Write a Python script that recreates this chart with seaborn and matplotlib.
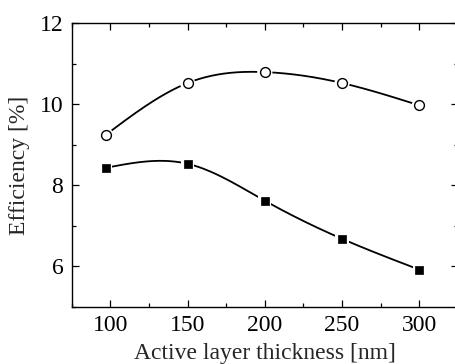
import numpy as np
import pandas as pd
import seaborn as sns
import matplotlib
matplotlib.use("Agg")
import matplotlib.pyplot as plt
from matplotlib.ticker import MultipleLocator

# Data
thickness = [97, 150, 200, 250, 300]
eff_circle = [9.24, 10.52, 10.79, 10.52, 9.97]
eff_square = [8.43, 8.53, 7.62, 6.68, 5.92]


def natural_spline(x, y, n=200):
    # natural cubic spline, only used to draw the smooth connecting line
    x = np.asarray(x, float)
    y = np.asarray(y, float)
    k = len(x)
    h = np.diff(x)
    A = np.zeros((k, k))
    b = np.zeros(k)
    A[0, 0] = A[-1, -1] = 1
    for i in range(1, k - 1):
        A[i, i - 1] = h[i - 1]
        A[i, i] = 2 * (h[i - 1] + h[i])
        A[i, i + 1] = h[i]
        b[i] = 6 * ((y[i + 1] - y[i]) / h[i] - (y[i] - y[i - 1]) / h[i - 1])
    M = np.linalg.solve(A, b)
    xs = np.linspace(x[0], x[-1], n)
    idx = np.clip(np.searchsorted(x, xs) - 1, 0, k - 2)
    x0, x1 = x[idx], x[idx + 1]
    hh = x1 - x0
    ys = (M[idx] * (x1 - xs) ** 3 / (6 * hh) + M[idx + 1] * (xs - x0) ** 3 / (6 * hh)
          + (y[idx] / hh - M[idx] * hh / 6) * (x1 - xs)
          + (y[idx + 1] / hh - M[idx + 1] * hh / 6) * (xs - x0))
    return xs, ys


sns.set_style("ticks")
plt.rcParams['font.family'] = ['Liberation Serif', 'DejaVu Serif']
plt.rcParams['font.size'] = 17

fig = plt.figure(figsize=(4.56, 3.64), dpi=100)
ax = fig.add_axes([71.6 / 456, 57 / 364, (458 - 71.6) / 456, (307 - 23) / 364])

for yvals in (eff_circle, eff_square):
    xs, ys = natural_spline(thickness, yvals)
    sns.lineplot(x=xs, y=ys, ax=ax, color='black', lw=1.3, zorder=2)

df = pd.DataFrame({'x': thickness, 'circle': eff_circle, 'square': eff_square})
# white halo under markers
sns.scatterplot(data=df, x='x', y='circle', ax=ax, marker='o', s=120, color='white',
                edgecolor='none', zorder=3)
sns.scatterplot(data=df, x='x', y='square', ax=ax, marker='s', s=90, color='white',
                edgecolor='none', zorder=3)
sns.scatterplot(data=df, x='x', y='circle', ax=ax, marker='o', s=50, facecolor='white',
                edgecolor='black', linewidth=1.0, zorder=4)
sns.scatterplot(data=df, x='x', y='square', ax=ax, marker='s', s=38, color='black',
                edgecolor='black', linewidth=0.5, zorder=4)

ax.set_xlim(75, 325)
ax.set_ylim(5, 12)
ax.xaxis.set_major_locator(MultipleLocator(50))
ax.xaxis.set_minor_locator(MultipleLocator(25))
ax.yaxis.set_major_locator(MultipleLocator(2))
ax.yaxis.set_minor_locator(MultipleLocator(1))
ax.tick_params(which='both', direction='in', top=True, right=True, width=0.9,
               labelsize=17, colors='black', pad=6)
ax.tick_params(which='major', length=5)
ax.tick_params(which='minor', length=3)
for sp in ax.spines.values():
    sp.set_visible(True)
    sp.set_linewidth(1.0)
    sp.set_color('black')

ax.set_xlabel('Active layer thickness [nm]', fontsize=17, labelpad=5)
ax.set_ylabel('Efficiency [%]', fontsize=17, labelpad=7)

fig.savefig('out.png', dpi=100)
